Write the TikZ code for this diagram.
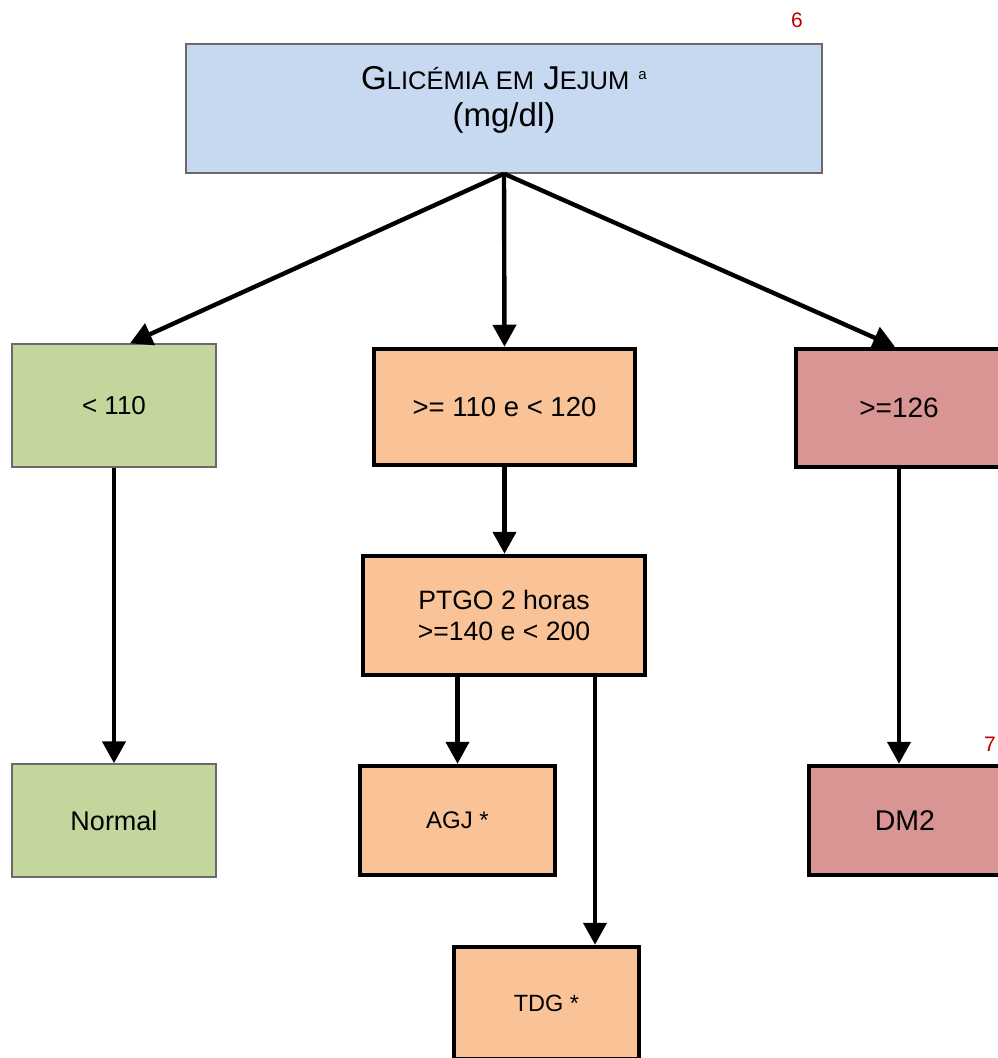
\documentclass[tikz,border=0pt]{standalone}
\usepackage{fontspec}
\setmainfont{Liberation Sans}
\usetikzlibrary{arrows.meta,calc}
\definecolor{boxblue}{HTML}{C6D9F0}
\definecolor{boxgreen}{HTML}{C3D69B}
\definecolor{boxorange}{HTML}{F9C397}
\definecolor{boxred}{HTML}{D99594}
\definecolor{thinedge}{HTML}{6A6A6A}
\definecolor{marknum}{HTML}{C00000}
\newcommand{\fs}[1]{\fontsize{#1}{#1}\selectfont}
\tikzset{
  x=1pt, y=-1pt,
  basebox/.style={rectangle, inner sep=0pt, align=center},
  thinbox/.style={basebox, draw=thinedge, line width=1.4pt},
  thickbox/.style={basebox, draw=black, line width=4.5pt},
  conn/.style={draw=black, line width=4.4pt,
    -{Triangle[length=22pt,width=23pt]}},
  numlabel/.style={text=marknum, font=\fs{21}}
}
\begin{document}
\begin{tikzpicture}
\useasboundingbox (0,0) rectangle (998,1058);
\clip (0,0) rectangle (998,1058);
% boxes
\node[thinbox, fill=boxblue, minimum width=636pt, minimum height=129pt] (top) at (504,108.5) {};
\node[basebox, font=\fs{33}] (toptext) at (504,100)
  {G{\fs{25.5}LICÉMIA EM} J{\fs{25.5}EJUM} \raisebox{10pt}{\fs{15}a}\\[4pt] (mg/dl)};
\node[thinbox, fill=boxgreen, minimum width=204pt, minimum height=123pt, font=\fs{26}] (lt) at (114,405.5) {< 110};
\node[thickbox, fill=boxorange, minimum width=261pt, minimum height=116pt, font=\fs{27.5}] (mid) at (504.5,407) {>= 110 e < 120};
\node[thickbox, fill=boxred, minimum width=206pt, minimum height=118pt, font=\fs{28}] (rt) at (899,408) {>=126};
\node[thickbox, fill=boxorange, minimum width=282pt, minimum height=119pt, font=\fs{26.6}] (ptgo) at (504,615.5) {PTGO 2 horas\\[5pt]>=140 e < 200};
\node[thinbox, fill=boxgreen, minimum width=204pt, minimum height=113pt, font=\fs{27}] (norm) at (114,820.5) {Normal};
\node[thickbox, fill=boxorange, minimum width=195pt, minimum height=109pt, font=\fs{24}] (agj) at (457.5,820.5) {AGJ *};
\node[thickbox, fill=boxred, minimum width=192pt, minimum height=109pt, font=\fs{28.5}] (dm2) at (905,820.5) {DM2};
\node[thickbox, fill=boxorange, minimum width=185pt, minimum height=112pt, font=\fs{23.5}] (tdg) at (546.5,1003) {TDG *};
% page marks
\node[numlabel] (n6) at (797,20) {6};
\node[numlabel] (n7) at (990,744) {7};
% connectors
\draw[conn] (top.south) -- ([xshift=16pt]lt.north);
\draw[conn] (top.south) -- (mid.north);
\draw[conn] (top.south) -- ([xshift=-4pt]rt.north);
\draw[conn] (lt.south) -- (norm.north);
\draw[conn] (mid.south) -- (mid.south |- ptgo.north);
\draw[conn] (agj.north |- ptgo.south) -- (agj.north);
\draw[conn] ([xshift=48.5pt]tdg.north |- ptgo.south) -- ([xshift=48.5pt]tdg.north);
\draw[conn] (rt.south) -- (rt.south |- dm2.north);
\end{tikzpicture}
\end{document}
